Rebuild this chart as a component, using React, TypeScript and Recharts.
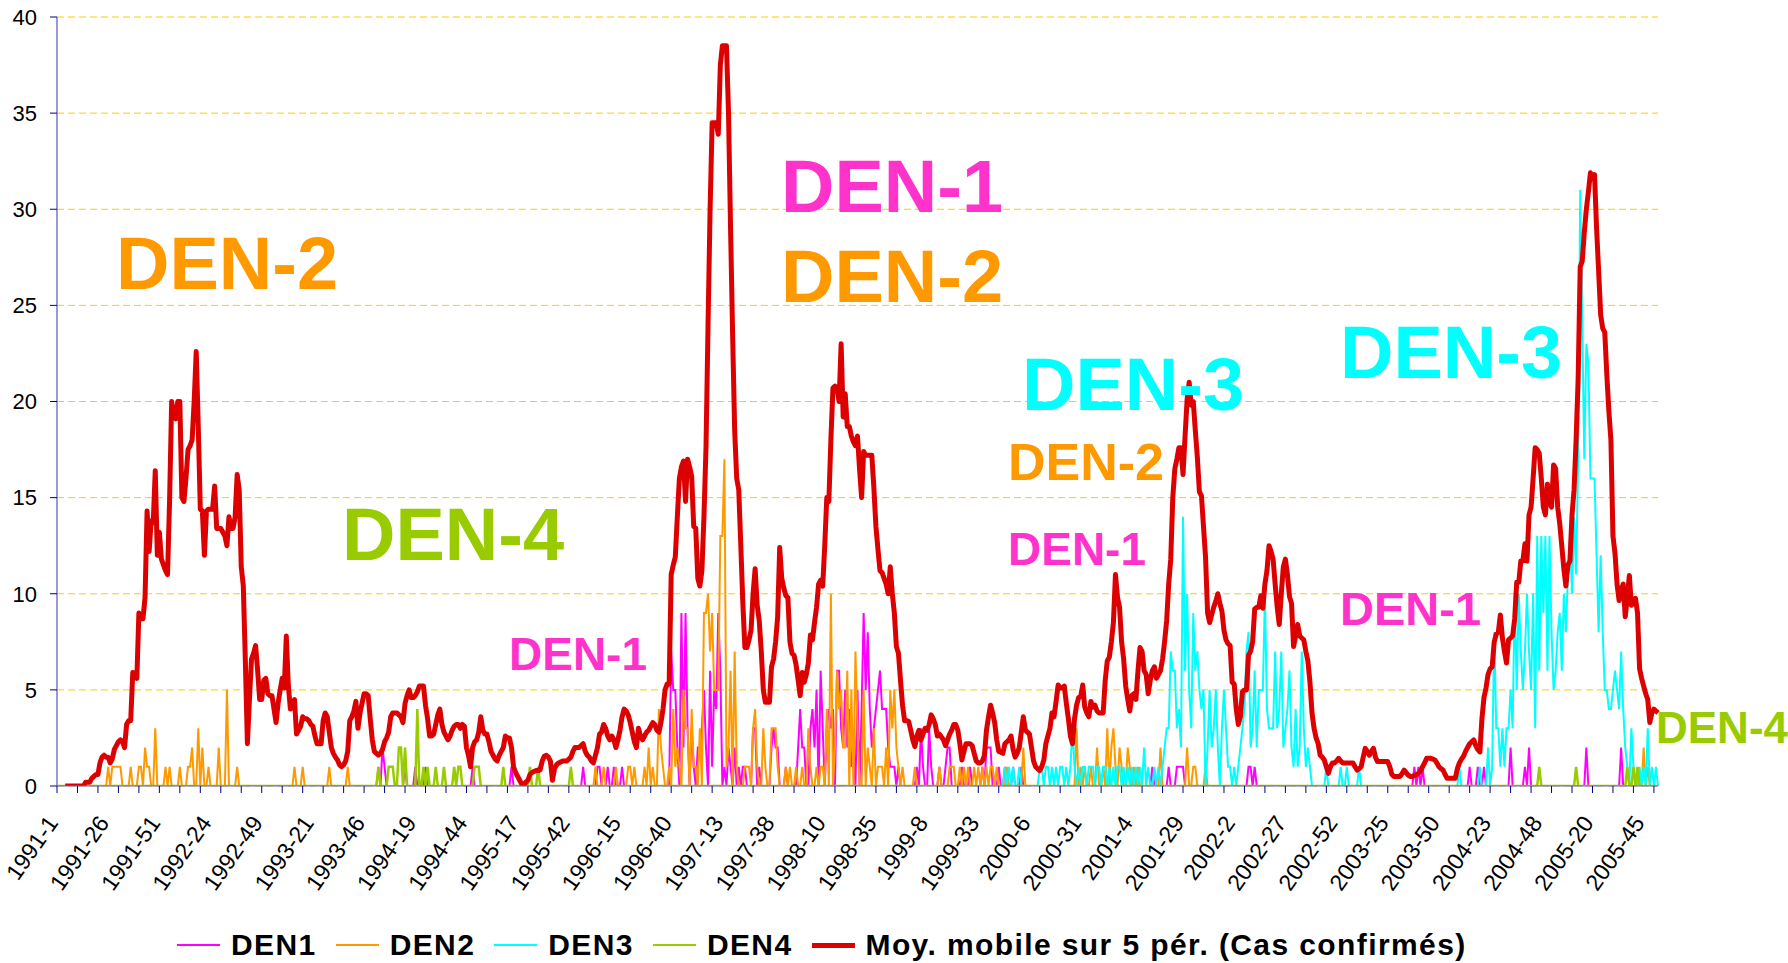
import React from 'react';
import { LineChart, Line, XAxis, YAxis, CartesianGrid } from 'recharts';

// ---- categories: weekly periods ----
const years = [1991, 1992, 1993, 1994, 1995, 1996, 1997, 1998, 1999, 2000, 2001, 2002, 2003, 2004, 2005];
const weeksPerYear = [52, 53, 52, 52, 52, 52, 53, 52, 52, 52, 52, 52, 52, 53, 52];
const yTicks = [0, 5, 10, 15, 20, 25, 30, 35, 40];

// ---- moving average (5 periods) of confirmed cases, per year ----
const ma1991 = [null, null, null, null, 0, 0, 0, 0, 0, 0, 0, 0, 0, 0,
  0.2, 0.2, 0.2, 0.4, 0.5, 0.6, 0.6,
  1.2, 1.5, 1.6, 1.5, 1.5, 1.2, 1.4, 1.9, 2.1, 2.3,
  2.4, 2.3, 2.0, 3.2, 3.4, 3.4, 5.9, 5.7, 5.6, 9.0,
  8.7, 8.7, 9.8, 14.3, 12.2, 13.8, 13.7, 16.4, 12.0, 13.2, 11.8];
const ma1992 = [11.5, 11.2, 11.0, 14.9, 20.0, 19.3, 19.1, 20.0, 20.0, 15.0,
  14.8, 16.0, 17.5, 17.7, 18.0, 20.0, 22.6, 18.7, 14.4, 14.3,
  12.0, 14.3, 14.4, 14.4, 14.4, 15.6, 13.4, 13.4, 13.4, 13.2,
  13.0, 12.5, 14.0, 13.4, 13.4, 14.0, 16.2, 15.4, 11.4, 10.4,
  6.5, 2.2, 4.5, 6.6, 6.9, 7.3, 6.0, 4.5, 4.5, 5.5, 5.6, 4.8, 4.7];
const ma1993 = [4.7, 4.0, 3.3, 4.3, 5.0, 5.6, 5.1, 7.8, 5.2, 4.0,
  4.2, 4.5, 2.7, 2.9, 3.1, 3.6, 3.5, 3.5, 3.4, 3.2,
  3.1, 2.6, 2.2, 2.2, 2.2, 3.4, 3.8, 3.6, 2.8, 2.0,
  1.7, 1.5, 1.35, 1.1, 1.0, 1.1, 1.3, 1.8, 3.4, 3.6,
  3.9, 4.4, 3.0, 3.8, 4.3, 4.8, 4.8, 4.7, 3.5, 2.4,
  1.8, 1.7];
const ma1994 = [1.6, 1.7, 1.9, 2.3, 2.5, 2.8, 3.6, 3.8, 3.8, 3.8,
  3.7, 3.6, 3.3, 4.3, 4.7, 5.0, 4.6, 4.6, 4.7, 4.9,
  5.2, 5.2, 5.2, 4.2, 3.5, 2.6, 2.6, 2.7, 3.2, 3.7,
  4.0, 3.2, 2.8, 2.6, 2.4, 2.6, 2.9, 3.1, 3.2, 3.2,
  3.0, 3.2, 3.1, 2.0, 1.6, 1.0, 2.0, 2.3, 2.4, 2.8,
  3.6, 2.9];
const ma1995 = [2.7, 2.7, 2.3, 1.8, 1.6, 1.4, 1.3, 1.6, 1.8, 2.0,
  2.6, 2.5, 2.5, 2.0, 1.0, 0.7, 0.5, 0.3, 0.1, 0,
  0.2, 0.3, 0.6, 0.7, 0.75, 0.8, 0.8, 0.85, 1.3, 1.55,
  1.6, 1.5, 1.3, 0.3, 0.9, 1.1, 1.2, 1.25, 1.3, 1.3,
  1.3, 1.4, 1.5, 1.8, 2.0, 2.0, 2.0, 2.1, 2.2, 1.8,
  1.6, 1.5];
const ma1996 = [1.3, 1.2, 1.6, 2.0, 2.7, 2.8, 3.2, 3.0, 2.6, 2.4,
  2.6, 2.4, 2.0, 2.4, 2.9, 3.6, 4.0, 3.9, 3.7, 3.3,
  2.8, 2.3, 2.0, 3.0, 2.6, 2.4, 2.6, 2.8, 2.9, 3.1,
  3.3, 3.2, 2.9, 2.8, 3.3, 4.0, 5.0, 5.3, 5.3, 11.0,
  11.5, 11.9, 14.0, 16.0, 16.6, 16.9, 14.8, 17.0, 16.6, 16.1,
  13.5, 13.4];
const ma1997 = [10.8, 10.4, 11.2, 14.0, 17.6, 24.0, 30.0, 34.5, 34.5, 34.5,
  33.9, 37.5, 38.5, 38.5, 38.5, 35.0, 29.0, 23.5, 18.5, 16.0,
  15.4, 12.5, 9.5, 7.2, 7.2, 7.6, 8.1, 10.0, 11.3, 9.4,
  8.6, 7.0, 5.0, 4.35, 4.35, 4.35, 6.2, 6.6, 7.5, 8.8,
  12.4, 10.8, 10.3, 9.9, 9.8, 7.5, 6.9, 6.8, 6.3, 5.5,
  4.7, 5.9, 5.4];
const ma1998 = [5.8, 6.4, 7.85, 7.6, 8.5, 9.3, 10.5, 10.7, 10.4, 12.5,
  15.0, 14.8, 18.0, 20.7, 20.8, 20.7, 20.0, 23.0, 19.2, 20.4,
  18.7, 18.7, 18.2, 17.9, 17.7, 18.2, 16.5, 15.0, 17.4, 17.2,
  17.2, 17.2, 17.2, 15.5, 13.5, 12.3, 11.2, 11.1, 10.8, 10.5,
  10.0, 11.4, 10.0, 9.0, 7.25, 6.9, 5.5, 4.2, 3.4, 3.4,
  3.35, 2.9];
const ma1999 = [2.4, 2.05, 2.6, 2.9, 2.4, 2.7, 3.0, 2.9, 3.2, 3.7,
  3.5, 3.2, 2.6, 2.7, 2.55, 2.4, 2.1, 2.4, 2.7, 2.9,
  3.2, 3.2, 2.9, 2.2, 1.35, 1.8, 2.2, 2.2, 2.2, 2.1,
  1.7, 1.3, 1.2, 1.2, 1.3, 1.6, 2.9, 3.6, 4.2, 3.8,
  3.3, 2.4, 1.8, 1.75, 1.7, 2.2, 2.3, 2.4, 2.6, 1.9,
  1.5, 1.7];
const ma2000 = [2.0, 2.8, 3.6, 2.9, 2.8, 2.7, 2.0, 1.3, 1.0, 0.9,
  0.8, 1.0, 1.35, 2.2, 2.6, 3.0, 3.8, 3.6, 4.4, 5.25,
  5.1, 5.1, 5.2, 4.3, 3.5, 2.6, 2.2, 3.5, 4.2, 4.6,
  4.65, 5.25, 4.1, 3.8, 3.6, 4.4, 4.1, 4.2, 3.9, 3.8,
  3.8, 3.8, 5.5, 6.5, 6.7, 7.5, 8.5, 11.0, 9.8, 9.3,
  7.5, 6.6];
const ma2001 = [5.2, 4.5, 3.9, 4.7, 4.8, 4.5, 6.0, 7.2, 7.0, 6.0,
  5.8, 4.8, 5.5, 6.0, 6.2, 5.6, 5.8, 6.0, 6.6, 7.5,
  8.6, 10.5, 11.8, 15.0, 16.5, 17.0, 17.6, 17.6, 16.2, 18.2,
  20.1, 21.0, 19.8, 20.0, 18.5, 17.1, 15.3, 15.1, 13.5, 11.9,
  9.0, 8.5, 8.9, 9.3, 9.6, 10.0, 9.5, 9.1, 8.1, 7.6,
  7.4, 7.3];
const ma2002 = [5.4, 5.3, 4.0, 3.2, 3.6, 4.9, 5.0, 5.0, 6.8, 7.0,
  7.5, 9.2, 9.3, 9.3, 9.9, 9.25, 10.5, 11.2, 12.5, 12.2,
  11.8, 10.5, 9.3, 8.4, 10.0, 11.4, 11.8, 11.0, 9.85, 9.5,
  7.25, 7.8, 8.4, 7.8, 7.7, 7.6, 7.0, 6.5, 5.4, 3.8,
  3.0, 2.5, 2.2, 1.6, 1.5, 1.35, 1.0, 0.66, 1.0, 1.2,
  1.2, 1.3];
const ma2003 = [1.44, 1.3, 1.2, 1.2, 1.2, 1.2, 1.2, 1.2, 1.0, 0.83,
  0.9, 1.0, 1.5, 1.96, 1.8, 1.6, 1.8, 1.96, 1.5, 1.27,
  1.27, 1.27, 1.27, 1.27, 1.27, 1.0, 0.6, 0.5, 0.5, 0.5,
  0.5, 0.65, 0.83, 0.7, 0.57, 0.5, 0.5, 0.55, 0.6, 0.66,
  0.8, 1.0, 1.2, 1.44, 1.44, 1.44, 1.4, 1.35, 1.2, 1.0,
  0.9, 0.83];
const ma2004 = [0.6, 0.4, 0.4, 0.4, 0.4, 0.4, 0.9, 1.2, 1.4, 1.55,
  1.8, 2.0, 2.2, 2.3, 2.4, 2.1, 1.9, 1.77, 3.5, 4.6,
  5.1, 5.8, 6.1, 6.2, 7.5, 7.9, 8.0, 8.9, 7.7, 7.0,
  6.4, 7.6, 7.7, 7.8, 8.7, 10.6, 10.6, 11.7, 11.7, 12.6,
  11.7, 14.1, 14.5, 16.0, 17.6, 17.5, 17.3, 16.0, 14.5, 14.1,
  15.7, 14.8, 14.5];
const ma2005 = [16.7, 16.5, 14.5, 13.65, 12.5, 11.3, 10.4, 11.5, 11.7, 14.1,
  15.4, 18.0, 21.2, 27.0, 27.3, 28.8, 30.0, 30.9, 31.9, 31.6,
  31.8, 29.0, 26.8, 24.5, 23.8, 23.6, 21.4, 19.5, 18.0, 13.0,
  12.1, 10.5, 9.65, 10.2, 10.5, 8.8, 9.8, 10.95, 9.4, 9.6,
  9.76, 9.0, 6.1, 5.6, 5.2, 4.8, 4.5, 3.3, 3.8, 4.0,
  3.9, 3.8];

// ---- weekly cases per serotype: [week index, cases]; all other weeks are 0 ----
const den1Cases: [number, number][] = [
  [159, 2], [160, 1], [170, 1], [175, 1], [180, 1], [203, 1], [222, 1], [257, 1], [264, 1], [265, 1], [269, 1], [272, 1], [276, 1],
  [300, 7], [301, 5], [302, 5], [303, 2], [305, 9], [306, 2], [307, 9], [308, 3], [310, 3], [311, 1], [313, 2], [314, 2], [315, 3],
  [316, 5], [317, 2], [319, 6], [320, 1], [321, 5], [322, 4], [323, 9], [324, 6], [326, 1], [328, 2], [329, 1], [331, 2], [333, 1],
  [335, 1], [336, 1], [340, 3], [341, 3], [343, 1], [349, 2], [350, 3], [351, 2], [352, 2], [356, 1], [362, 2], [363, 4], [364, 2],
  [365, 2], [368, 3], [369, 4], [370, 2], [371, 5], [373, 6], [374, 3], [376, 3], [377, 4], [378, 3], [379, 4], [381, 6], [382, 6],
  [383, 3], [384, 2], [385, 5], [386, 2], [387, 4], [388, 1], [389, 2], [391, 5], [393, 4], [394, 9], [395, 5], [396, 8], [397, 4],
  [398, 2], [399, 3], [400, 4], [401, 5], [402, 6], [403, 4], [404, 4], [405, 4], [406, 2], [407, 1], [408, 1], [409, 1], [411, 1],
  [420, 1], [422, 3], [423, 1], [426, 3], [427, 1], [431, 1], [434, 1], [435, 2], [436, 2], [442, 1], [446, 1], [452, 1], [454, 2],
  [455, 2], [456, 2], [460, 1], [463, 1], [467, 1], [471, 1], [535, 1], [543, 1], [547, 1], [548, 1], [549, 1], [550, 1], [582, 1],
  [583, 1], [585, 1], [663, 1], [665, 1], [667, 1], [690, 1], [694, 1], [697, 1], [710, 2], [717, 1], [719, 2], [747, 2], [764, 2],
];
const den2Cases: [number, number][] = [
  [25, 1], [27, 1], [28, 1], [29, 1], [30, 1], [31, 1], [36, 1], [40, 1], [41, 1], [43, 2], [44, 1], [45, 1], [48, 3], [53, 1],
  [55, 1], [60, 1], [64, 1], [65, 1], [66, 2], [69, 3], [71, 2], [74, 1], [79, 2], [83, 5], [88, 1],
  [116, 1], [120, 1], [133, 1], [142, 1], [157, 1],
  [263, 1], [267, 1], [273, 1], [279, 1], [280, 1], [282, 1], [287, 1], [289, 2], [291, 1], [294, 4], [295, 2], [296, 1], [299, 1],
  [301, 4], [302, 1], [303, 2], [304, 1], [306, 5], [307, 3], [308, 3], [310, 4], [311, 1], [312, 1], [314, 3], [316, 9], [317, 9],
  [318, 10], [319, 7], [320, 9], [321, 5], [322, 5], [323, 5], [324, 13], [325, 13], [326, 17], [327, 1], [328, 2], [329, 6],
  [331, 7], [332, 1], [336, 1], [337, 1], [338, 1], [340, 3], [341, 4], [342, 1], [345, 3], [346, 1], [349, 3], [350, 3], [351, 3],
  [352, 1], [356, 1], [358, 1], [361, 1], [364, 1], [367, 3], [368, 1], [371, 1], [373, 1], [374, 1], [376, 4], [378, 10], [380, 2],
  [381, 6], [382, 4], [383, 5], [384, 2], [385, 2], [386, 6], [388, 5], [390, 7], [391, 3], [394, 5], [396, 2], [397, 1], [399, 3],
  [401, 1], [402, 1], [403, 1], [405, 2], [407, 5], [408, 3], [409, 5], [410, 2], [411, 1], [413, 1], [419, 1], [431, 1], [436, 1],
  [437, 1], [438, 1], [441, 1], [443, 1], [445, 1], [448, 1], [450, 1], [452, 1], [454, 1], [456, 1], [457, 1], [459, 1], [464, 1],
  [472, 2], [498, 3], [500, 1], [502, 1], [505, 1], [508, 2], [511, 1], [513, 3], [515, 2], [516, 3], [517, 1], [519, 2], [520, 1],
  [523, 2], [524, 1], [526, 1], [528, 1], [539, 2], [552, 2], [555, 1], [556, 1], [561, 1], [775, 2], [777, 1],
];
const den3Cases: [number, number][] = [
  [463, 1], [465, 1], [467, 1], [470, 1], [480, 1], [481, 1], [483, 1], [484, 1], [486, 1], [488, 1], [490, 1], [491, 1], [493, 1],
  [495, 1], [496, 3], [497, 1], [499, 1], [501, 1], [502, 1], [504, 1], [505, 1], [506, 1], [508, 1], [509, 1], [511, 1], [512, 1],
  [514, 1], [516, 1], [518, 1], [519, 1], [521, 1], [523, 1], [525, 1], [527, 1], [529, 1], [531, 2], [533, 1], [536, 1], [538, 1],
  [540, 1], [541, 2], [542, 3], [543, 3], [544, 7], [545, 6], [546, 6], [547, 3], [548, 4], [549, 2], [550, 14], [551, 6], [552, 10],
  [553, 5], [554, 3], [555, 9], [556, 6], [557, 7], [558, 5], [559, 4], [560, 5], [562, 2], [563, 5], [564, 2], [565, 3], [566, 5],
  [567, 2], [569, 3], [570, 5], [571, 3], [572, 1], [573, 1], [575, 1], [577, 1], [578, 2], [579, 3], [580, 4], [581, 7], [582, 8],
  [583, 2], [584, 3], [585, 6], [586, 2], [587, 5], [588, 5], [589, 5], [590, 10], [591, 4], [592, 3], [593, 3], [594, 3], [595, 7],
  [596, 3], [597, 4], [598, 7], [599, 2], [600, 3], [601, 4], [602, 6], [603, 2], [604, 1], [605, 4], [606, 1], [607, 2], [608, 7],
  [609, 3], [610, 1], [611, 2], [612, 1], [620, 1], [627, 1], [630, 1], [636, 1],
  [685, 1], [695, 1], [699, 2], [701, 1], [702, 8], [703, 3], [704, 3], [705, 1], [706, 3], [707, 1], [708, 3], [709, 3], [710, 5],
  [711, 3], [712, 10], [713, 5], [714, 10], [715, 7], [716, 5], [717, 7], [718, 10], [719, 7], [720, 5], [721, 10], [722, 3],
  [723, 13], [724, 6], [725, 13], [726, 9], [727, 13], [728, 6], [729, 13], [730, 8], [731, 5], [732, 6], [733, 8], [734, 9],
  [735, 6], [736, 10], [737, 8], [738, 11], [739, 13], [740, 10], [741, 14], [742, 11], [743, 17], [744, 31], [745, 24], [746, 17],
  [747, 23], [748, 22], [749, 16], [750, 16], [751, 16], [752, 12], [753, 8], [754, 12], [755, 8], [756, 5], [757, 5], [758, 4],
  [759, 4], [760, 5], [761, 6], [762, 5], [763, 4], [764, 7], [765, 4], [766, 2], [767, 1], [769, 3], [770, 1], [773, 1], [775, 1],
  [777, 3], [779, 1], [781, 1],
];
const den4Cases: [number, number][] = [
  [157, 1], [162, 1], [163, 1], [164, 1], [167, 2], [168, 2], [170, 2], [176, 4], [179, 1], [181, 1], [185, 1], [189, 1], [194, 1],
  [196, 1], [197, 1], [204, 1], [205, 1], [206, 1], [218, 1], [231, 1], [235, 1], [251, 1], [724, 1], [742, 1], [767, 1], [770, 1],
  [772, 1],
];

// ---- annotations ----
const annotations = [
  { text: 'DEN-2', color: '#FF9900', x: 116, y: 289, size: 74 },
  { text: 'DEN-4', color: '#99CC00', x: 342, y: 560, size: 74 },
  { text: 'DEN-1', color: '#FF33CC', x: 509, y: 670, size: 46 },
  { text: 'DEN-1', color: '#FF33CC', x: 781, y: 212, size: 74 },
  { text: 'DEN-2', color: '#FF9900', x: 781, y: 302, size: 74 },
  { text: 'DEN-3', color: '#00FFFF', x: 1022, y: 410, size: 74 },
  { text: 'DEN-2', color: '#FF9900', x: 1008, y: 480, size: 52 },
  { text: 'DEN-1', color: '#FF33CC', x: 1008, y: 565, size: 46 },
  { text: 'DEN-3', color: '#00FFFF', x: 1340, y: 378, size: 74 },
  { text: 'DEN-1', color: '#FF33CC', x: 1340, y: 625, size: 47 },
  { text: 'DEN-4', color: '#99CC00', x: 1656, y: 743, size: 44 },
];

const legendItems = [
  { label: 'DEN1', color: '#FF00FF', width: 2 },
  { label: 'DEN2', color: '#FF9900', width: 2 },
  { label: 'DEN3', color: '#00FFFF', width: 2 },
  { label: 'DEN4', color: '#99CC00', width: 2 },
  { label: 'Moy. mobile sur 5 pér. (Cas confirmés)', color: '#DD0000', width: 5 },
];

// ---- build table ----
const weekLabels: string[] = [];
years.forEach((y, k) => {
  for (let w = 1; w <= weeksPerYear[k]; w++) weekLabels.push(`${y}-${w}`);
});
const labelIndex = new Map<string, number>(weekLabels.map((l, i) => [l, i]));
const movingAverage = [
  ...ma1991, ...ma1992, ...ma1993, ...ma1994, ...ma1995, ...ma1996, ...ma1997, ...ma1998,
  ...ma1999, ...ma2000, ...ma2001, ...ma2002, ...ma2003, ...ma2004, ...ma2005,
];
const expand = (pairs: [number, number][]) => {
  const m = new Map<number, number>(pairs);
  return weekLabels.map((_, i) => m.get(i) ?? 0);
};
const d1 = expand(den1Cases);
const d2 = expand(den2Cases);
const d3 = expand(den3Cases);
const d4 = expand(den4Cases);
const data = weekLabels.map((week, i) => ({
  week,
  den1: d1[i],
  den2: d2[i],
  den3: d3[i],
  den4: d4[i],
  ma: movingAverage[i] ?? null,
}));

const FONT = '"Liberation Sans", Arial, Helvetica, sans-serif';

const WeekTick = (props: any) => {
  const { x, y, payload } = props;
  const idx = labelIndex.get(payload.value) ?? -1;
  const showTick = idx % 10 === 0;
  const showLabel = idx % 25 === 0;
  if (!showTick && !showLabel) return <g />;
  const lx = x + 2;
  const ly = y + 37;
  return (
    <g>
      {showTick && <line x1={x} y1={y} x2={x} y2={y + 7} stroke="#000080" strokeWidth={1} />}
      {showLabel && (
        <text
          x={lx}
          y={ly}
          textAnchor="end"
          fontSize={23}
          fontFamily={FONT}
          fill="#000"
          transform={`rotate(-55, ${lx}, ${ly})`}
        >
          {payload.value}
        </text>
      )}
    </g>
  );
};

export default function App() {
  return (
    <div style={{ position: 'absolute', left: 0, top: 0, width: 1788, height: 963, background: '#fff', fontFamily: FONT }}>
      <LineChart
        width={1788}
        height={963}
        data={data}
        margin={{ top: 17, right: 130, bottom: 0, left: 0 }}
        style={{ fontFamily: FONT }}
      >
        <CartesianGrid vertical={false} stroke="#FFCC00" strokeDasharray="7 4" />
        <XAxis
          dataKey="week"
          interval={0}
          height={177}
          tickSize={0}
          tickMargin={0}
          tickLine={false}
          axisLine={{ stroke: '#6666CC', strokeWidth: 1 }}
          tick={<WeekTick />}
        />
        <YAxis
          domain={[0, 40]}
          ticks={yTicks}
          width={57}
          tickSize={7}
          tickMargin={13}
          axisLine={{ stroke: '#7777CC', strokeWidth: 1.5 }}
          tickLine={{ stroke: '#000080' }}
          tick={{ fontSize: 22, fill: '#000', fontFamily: FONT }}
          allowDataOverflow
        />
        <Line type="linear" dataKey="den1" stroke="#FF00FF" strokeWidth={2} dot={false} isAnimationActive={false} />
        <Line type="linear" dataKey="den2" stroke="#FF9900" strokeWidth={2} dot={false} isAnimationActive={false} />
        <Line type="linear" dataKey="den3" stroke="#00FFFF" strokeWidth={2} dot={false} isAnimationActive={false} />
        <Line type="linear" dataKey="den4" stroke="#99CC00" strokeWidth={2.5} dot={false} isAnimationActive={false} />
        <Line
          type="linear"
          dataKey="ma"
          stroke="#DD0000"
          strokeWidth={5}
          strokeLinejoin="round"
          dot={false}
          isAnimationActive={false}
        />
      </LineChart>

      <svg
        width={1788}
        height={963}
        style={{ position: 'absolute', left: 0, top: 0, pointerEvents: 'none' }}
      >
        {annotations.map((a, i) => (
          <text key={i} x={a.x} y={a.y} fill={a.color} fontSize={a.size} fontWeight="bold" fontFamily={FONT}>
            {a.text}
          </text>
        ))}
      </svg>

      <div
        style={{
          position: 'absolute',
          left: 177,
          top: 925,
          height: 40,
          display: 'flex',
          alignItems: 'center',
          whiteSpace: 'nowrap',
        }}
      >
        {legendItems.map((it) => (
          <div key={it.label} style={{ display: 'flex', alignItems: 'center', marginRight: 19 }}>
            <div style={{ width: 43, height: it.width, background: it.color, marginRight: 11 }} />
            <span
              style={{
                fontSize: 30,
                fontWeight: 'bold',
                fontFamily: FONT,
                color: '#000',
                lineHeight: '40px',
                letterSpacing: 1.4,
              }}
            >
              {it.label}
            </span>
          </div>
        ))}
      </div>
    </div>
  );
}
